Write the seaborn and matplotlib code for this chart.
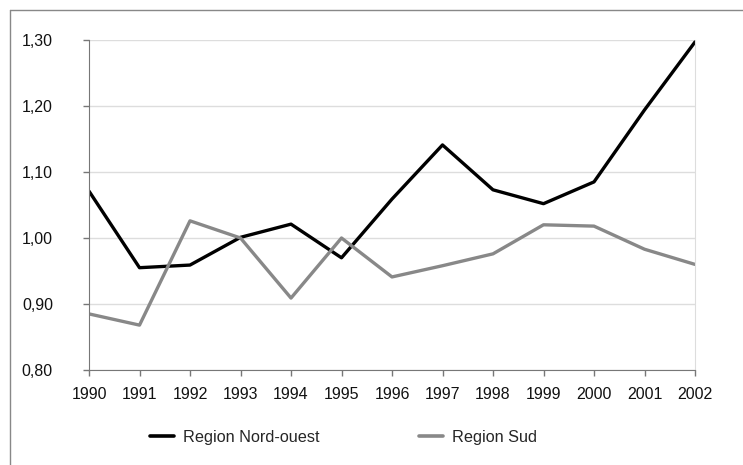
import matplotlib
matplotlib.use("Agg")
import matplotlib.pyplot as plt
import seaborn as sns
import pandas as pd
from matplotlib.lines import Line2D

years = [1990, 1991, 1992, 1993, 1994, 1995, 1996, 1997, 1998, 1999, 2000, 2001, 2002]
nord_ouest = [1.071, 0.955, 0.959, 1.001, 1.021, 0.970, 1.059, 1.141, 1.073, 1.052, 1.085, 1.194, 1.297]
sud = [0.885, 0.868, 1.026, 1.000, 0.909, 1.000, 0.941, 0.958, 0.976, 1.020, 1.018, 0.983, 0.960]
series_names = ["Region Nord-ouest", "Region Sud"]
y_ticks = [0.80, 0.90, 1.00, 1.10, 1.20, 1.30]

df = pd.DataFrame({"year": years * 2,
                   "value": nord_ouest + sud,
                   "series": [series_names[0]] * len(years) + [series_names[1]] * len(years)})

sns.set_style("white")
plt.rcParams['font.family'] = ['Liberation Sans', 'DejaVu Sans']

fig = plt.figure(figsize=(7.43, 4.65), dpi=100)
ax = fig.add_axes([89/743, 1-370/465, (695-89)/743, (370-40)/465])

palette = {series_names[0]: "#000000", series_names[1]: "#888888"}
sns.lineplot(data=df, x="year", y="value", hue="series", palette=palette,
             linewidth=2.4, ax=ax, legend=False)

ax.set_xlim(1990, 2002)
ax.set_ylim(0.80, 1.30)
ax.set_xticks(years)
ax.set_xticklabels([str(y) for y in years], fontsize=11.5)
ax.set_yticks(y_ticks)
ax.set_yticklabels([f"{v:.2f}".replace(".", ",") for v in y_ticks], fontsize=11.5)
ax.set_xlabel("")
ax.set_ylabel("")
ax.grid(axis="y", color="#dddddd", linewidth=1)
ax.set_axisbelow(True)
ax.spines["top"].set_visible(False)
ax.spines["right"].set_color("#dddddd")
ax.spines["left"].set_color("#777777")
ax.spines["bottom"].set_color("#777777")
ax.tick_params(axis="both", length=4, width=1, color="#777777", direction="out",
               left=True, bottom=True, labelcolor="#111111")
ax.tick_params(axis="x", pad=8)
ax.tick_params(axis="y", pad=22)

handles = [Line2D([0], [0], color=palette[n], linewidth=2.6) for n in series_names]
fig.legend(handles, series_names, loc="center", bbox_to_anchor=(343.5/743, 1-437/465),
           ncol=2, frameon=False, fontsize=11.7, handlelength=1.5, columnspacing=6.1,
           handletextpad=0.55)

# outer frame lines (top and left)
fig.add_artist(Line2D([10/743, 1], [1-10/465, 1-10/465], transform=fig.transFigure, color="#888888", linewidth=1))
fig.add_artist(Line2D([10/743, 10/743], [1-10/465, 0], transform=fig.transFigure, color="#888888", linewidth=1))

fig.savefig("out.png", dpi=100)
